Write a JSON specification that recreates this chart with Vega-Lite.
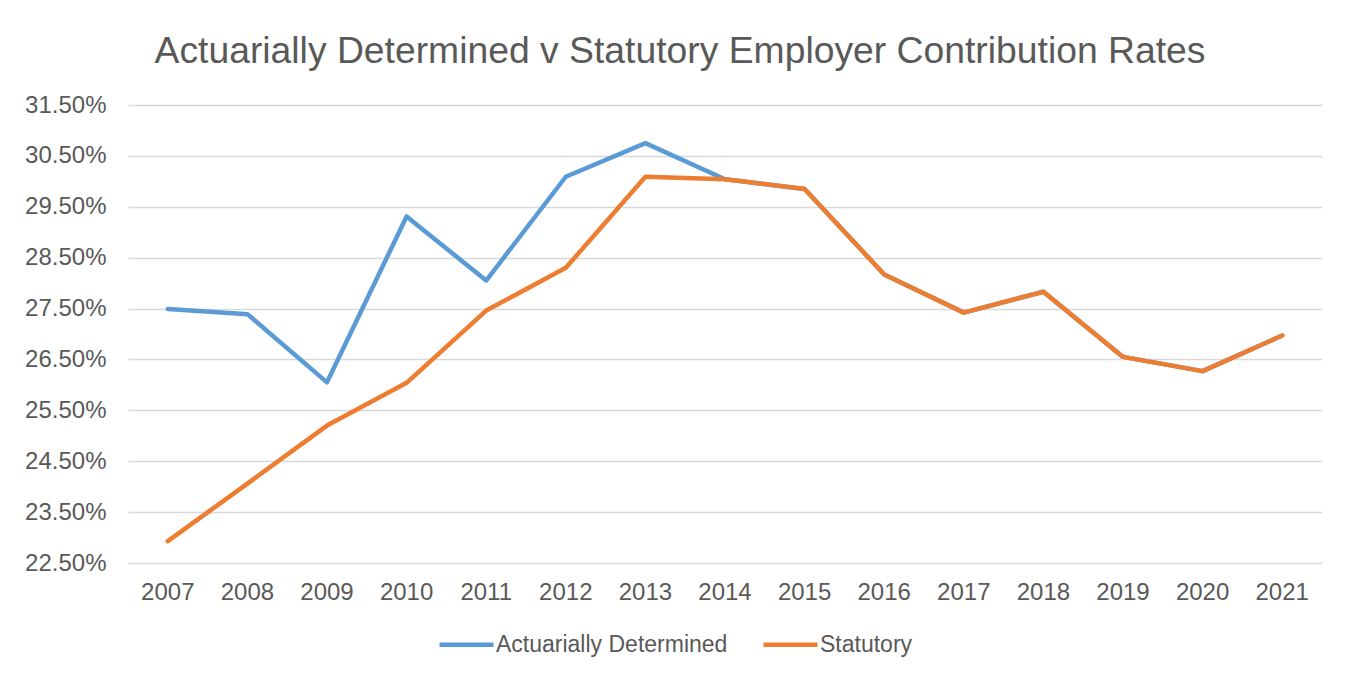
{
  "$schema": "https://vega.github.io/schema/vega-lite/v6.json",
  "autosize": "none",
  "width": 1194,
  "height": 458,
  "padding": {"left": 128, "top": 105, "right": 26, "bottom": 111},
  "background": "white",
  "title": {
    "text": "Actuarially Determined v Statutory Employer Contribution Rates",
    "font": "Liberation Sans",
    "fontSize": 37.3,
    "fontWeight": "normal",
    "color": "#595959",
    "anchor": "middle",
    "baseline": "alphabetic",
    "dx": -45,
    "offset": -7
  },
  "data": {
    "values": [
      {"year": "2007", "series": "Actuarially Determined", "rate": 27.49},
      {"year": "2008", "series": "Actuarially Determined", "rate": 27.39},
      {"year": "2009", "series": "Actuarially Determined", "rate": 26.05},
      {"year": "2010", "series": "Actuarially Determined", "rate": 29.31},
      {"year": "2011", "series": "Actuarially Determined", "rate": 28.05},
      {"year": "2012", "series": "Actuarially Determined", "rate": 30.09},
      {"year": "2013", "series": "Actuarially Determined", "rate": 30.75},
      {"year": "2014", "series": "Actuarially Determined", "rate": 30.04},
      {"year": "2015", "series": "Actuarially Determined", "rate": 29.85},
      {"year": "2016", "series": "Actuarially Determined", "rate": 28.17},
      {"year": "2017", "series": "Actuarially Determined", "rate": 27.42},
      {"year": "2018", "series": "Actuarially Determined", "rate": 27.83},
      {"year": "2019", "series": "Actuarially Determined", "rate": 26.55},
      {"year": "2020", "series": "Actuarially Determined", "rate": 26.27},
      {"year": "2021", "series": "Actuarially Determined", "rate": 26.97},
      {"year": "2007", "series": "Statutory", "rate": 22.93},
      {"year": "2008", "series": "Statutory", "rate": 24.06},
      {"year": "2009", "series": "Statutory", "rate": 25.2},
      {"year": "2010", "series": "Statutory", "rate": 26.04},
      {"year": "2011", "series": "Statutory", "rate": 27.46},
      {"year": "2012", "series": "Statutory", "rate": 28.3},
      {"year": "2013", "series": "Statutory", "rate": 30.09},
      {"year": "2014", "series": "Statutory", "rate": 30.04},
      {"year": "2015", "series": "Statutory", "rate": 29.85},
      {"year": "2016", "series": "Statutory", "rate": 28.17},
      {"year": "2017", "series": "Statutory", "rate": 27.42},
      {"year": "2018", "series": "Statutory", "rate": 27.83},
      {"year": "2019", "series": "Statutory", "rate": 26.55},
      {"year": "2020", "series": "Statutory", "rate": 26.27},
      {"year": "2021", "series": "Statutory", "rate": 26.97}
    ]
  },
  "mark": {"type": "line", "strokeWidth": 4.5, "strokeCap": "round", "strokeJoin": "round"},
  "encoding": {
    "x": {
      "field": "year",
      "type": "ordinal",
      "scale": {"type": "band", "paddingInner": 0, "paddingOuter": 0},
      "axis": {
        "title": null,
        "labelAngle": 0,
        "ticks": false,
        "domain": false,
        "grid": false,
        "labelPadding": 17,
        "labelFont": "Liberation Sans",
        "labelFontSize": 24,
        "labelColor": "#595959"
      }
    },
    "y": {
      "field": "rate",
      "type": "quantitative",
      "scale": {"domain": [22.5, 31.5], "nice": false, "zero": false},
      "axis": {
        "title": null,
        "values": [22.5, 23.5, 24.5, 25.5, 26.5, 27.5, 28.5, 29.5, 30.5, 31.5],
        "labelExpr": "format(datum.value, '.2f') + '%'",
        "ticks": false,
        "domain": false,
        "grid": true,
        "gridColor": "#d9d9d9",
        "gridWidth": 1.5,
        "labelPadding": 22,
        "labelFont": "Liberation Sans",
        "labelFontSize": 24,
        "labelColor": "#595959"
      }
    },
    "color": {
      "field": "series",
      "type": "nominal",
      "scale": {"domain": ["Actuarially Determined", "Statutory"], "range": ["#5b9bd5", "#ed7d31"]},
      "legend": {
        "title": null,
        "orient": "none",
        "direction": "horizontal",
        "legendX": 309,
        "legendY": 510,
        "symbolType": "stroke",
        "symbolSize": 2916,
        "symbolStrokeWidth": 4.5,
        "labelOffset": 0,
        "columnPadding": 26,
        "labelFont": "Liberation Sans",
        "labelFontSize": 23,
        "labelColor": "#595959",
        "labelLimit": 400
      }
    }
  },
  "config": {"view": {"stroke": null}}
}
